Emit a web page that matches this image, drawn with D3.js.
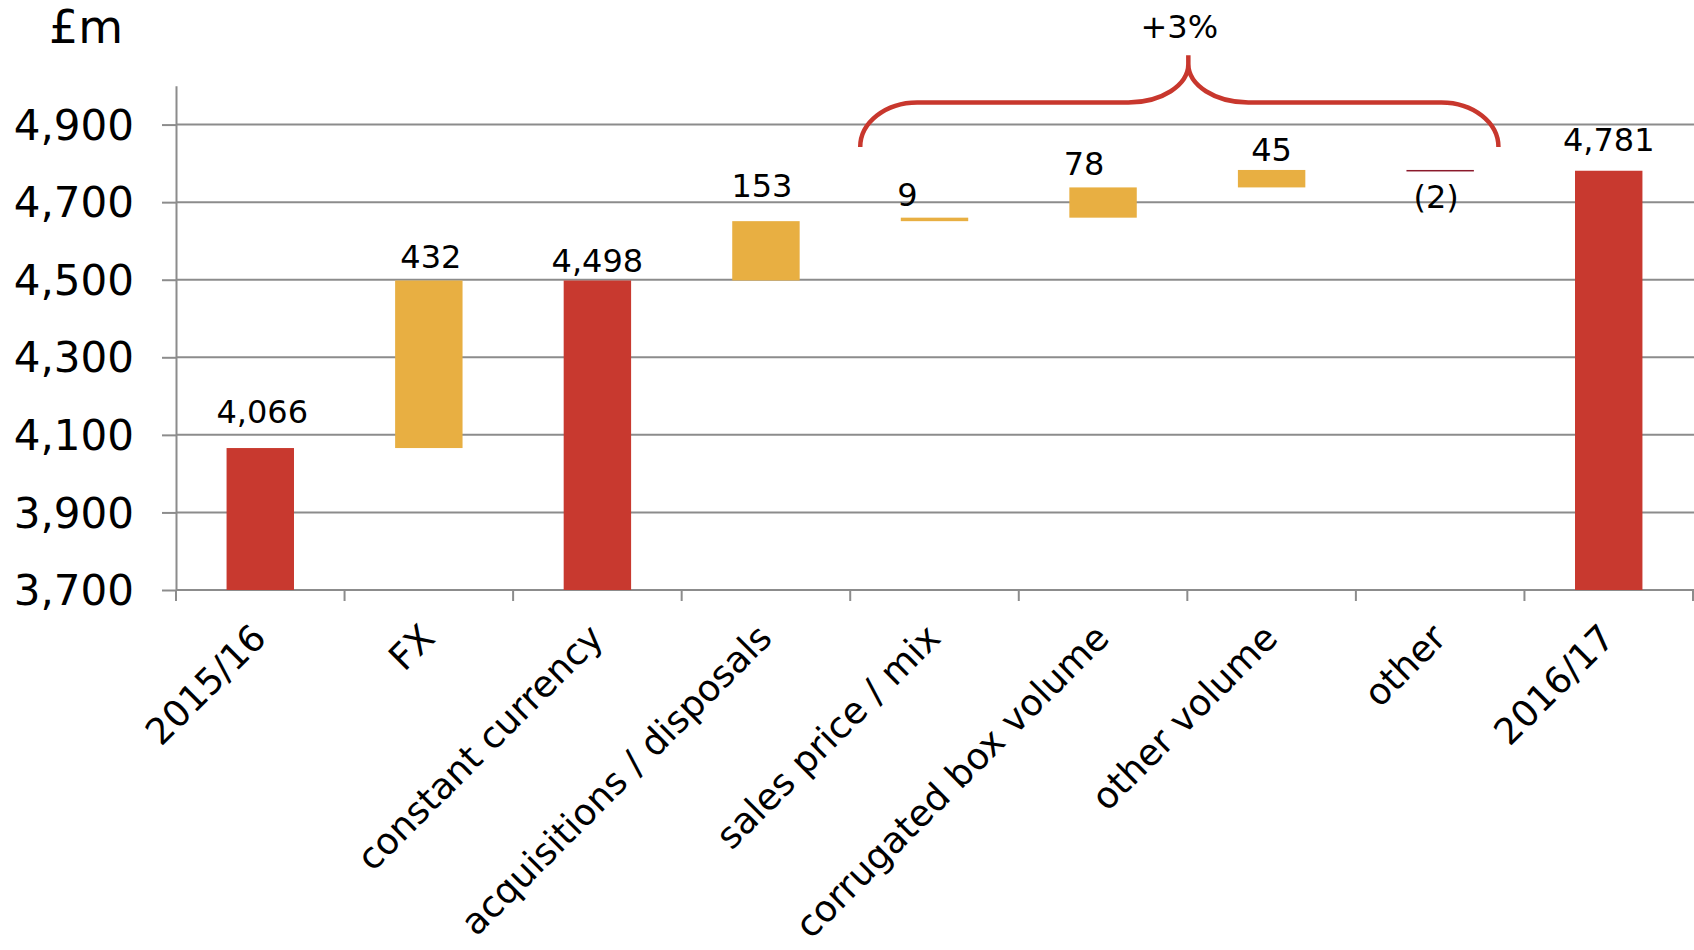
<!DOCTYPE html>
<html><head><meta charset="utf-8">
<script src="https://cdn.jsdelivr.net/npm/d3@7"></script>
<style>
html,body{margin:0;padding:0;background:#fff;}
svg{display:block;font-family:"DejaVu Sans",Verdana,sans-serif;}
</style></head><body>
<svg id="chart" width="1694" height="950"></svg>
<script>
// ---- data ----
const categories = ["2015/16","FX","constant currency","acquisitions / disposals","sales price / mix","corrugated box volume","other volume","other","2016/17"];
const values = [4066, 432, 4498, 153, 9, 78, 45, -2, 4781];
const kinds = ["total","delta","total","delta","delta","delta","delta","delta","total"];
const valueLabels = ["4,066","432","4,498","153","9","78","45","(2)","4,781"];
const yTicks = [3700, 3900, 4100, 4300, 4500, 4700, 4900];
const yTickLabels = ["3,700","3,900","4,100","4,300","4,500","4,700","4,900"];
const yDomain = [3700, 5000];
const unitLabel = "£m";
const braceLabel = "+3%";

// ---- styling ----
const W = 1694, H = 950;
const colTotal = "#C8392F", colPos = "#E8AF42", colNeg = "#8B1A2C", colAxis = "#8C8C8C", colBrace = "#C8372D";
// per-label nudges [dx, gap] as placed in the original
const labelNudge = {
  "2015/16":[2,25], "FX":[2,12], "constant currency":[0,8], "acquisitions / disposals":[-4,24],
  "sales price / mix":[-27,12], "corrugated box volume":[-19,12], "other volume":[0,9],
  "other":[-4,-37], "2016/17":[0,20]
};

const svg = d3.select("#chart");
const x = d3.scaleBand().domain(categories).range([176, 1693]).paddingInner(0.6).paddingOuter(0.3);
const y = d3.scaleLinear().domain(yDomain).range([590, 85.8]);
const step = x.step();
const boundary = i => x.range()[0] + i * step;

// compute waterfall segments
let running = yDomain[0];
const bars = categories.map((c, i) => {
  let a, b;
  if (kinds[i] === "total") { a = yDomain[0]; b = values[i]; running = values[i]; }
  else { a = running; b = running + values[i]; running = b; }
  return {c, lo: Math.min(a,b), hi: Math.max(a,b), v: values[i], kind: kinds[i], label: valueLabels[i]};
});

// gridlines
svg.append("g").selectAll("line").data(yTicks).join("line")
  .attr("x1", 176).attr("x2", W).attr("y1", d => y(d)).attr("y2", d => y(d))
  .attr("stroke", colAxis).attr("stroke-width", 2);

// y axis
const yAxis = svg.append("g").attr("transform", "translate(176,0)")
  .call(d3.axisLeft(y).tickValues(yTicks).tickFormat((d,i) => yTickLabels[i]).tickSize(14).tickSizeOuter(0).tickPadding(28));
yAxis.select(".domain").attr("stroke", colAxis).attr("stroke-width", 2);
yAxis.selectAll(".tick line").attr("stroke", colAxis).attr("stroke-width", 2);
yAxis.selectAll(".tick text").attr("font-size", 42).attr("font-family", "DejaVu Sans").attr("fill", "#000").attr("dy", "0.35em");

// x axis: boundary ticks
svg.append("g").selectAll("line").data(d3.range(categories.length + 1)).join("line")
  .attr("x1", boundary).attr("x2", boundary).attr("y1", y(yDomain[0])).attr("y2", y(yDomain[0]) + 11)
  .attr("stroke", colAxis).attr("stroke-width", 2);

const xAxis = svg.append("g").attr("transform", `translate(0,${y(yDomain[0])})`)
  .call(d3.axisBottom(x).tickSize(0).tickSizeOuter(0));
xAxis.select(".domain").remove();
xAxis.selectAll(".tick text")
  .attr("font-size", 36.5).attr("font-family", "DejaVu Sans").attr("fill", "#000")
  .attr("y", 0).attr("dy", 0).attr("text-anchor", "end")
  .attr("transform", "translate(8,50) rotate(-45)");

// bars
svg.append("g").selectAll("rect").data(bars).join("rect")
  .attr("x", d => x(d.c)).attr("width", x.bandwidth())
  .attr("y", d => y(d.hi))
  .attr("height", d => Math.max(y(d.lo) - y(d.hi), 1.5))
  .attr("fill", d => d.kind === "total" ? colTotal : (d.v >= 0 ? colPos : colNeg));

// value labels
svg.append("g").selectAll("text").data(bars).join("text")
  .attr("x", d => x(d.c) + x.bandwidth()/2 + labelNudge[d.c][0])
  .attr("y", d => d.v >= 0 ? y(d.hi) - labelNudge[d.c][1] : y(d.lo) - labelNudge[d.c][1])
  .attr("text-anchor", "middle").attr("font-size", 32).attr("fill", "#000")
  .text(d => d.label);

// unit label
svg.append("text").attr("x", 49).attr("y", 43).attr("font-size", 46).attr("fill", "#000").text(unitLabel);

// brace over the operating items
const L = boundary(4) + 10, R = boundary(8) - 26, T = boundary(6) + 1;
const yEnd = y(4842), yBar = y(4957), yTipBase = y(5056), yTip = y(5079);
const rx1 = 57, rx2 = 60;
const ry1 = yEnd - yBar, ry2 = yBar - yTipBase;
const path = `M${L},${yEnd} A${rx1},${ry1} 0 0 1 ${L+rx1},${yBar} H${T-rx2} A${rx2},${ry2} 0 0 0 ${T},${yTipBase} V${yTip}`
  + ` M${T},${yTipBase} A${rx2},${ry2} 0 0 0 ${T+rx2},${yBar} H${R-rx1} A${rx1},${ry1} 0 0 1 ${R},${yEnd}`;
svg.append("path").attr("d", path).attr("fill", "none").attr("stroke", colBrace).attr("stroke-width", 4.5).attr("stroke-linecap", "butt");
svg.append("text").attr("x", T - 9).attr("y", y(5123)).attr("text-anchor", "middle").attr("font-size", 32).attr("fill", "#000").text(braceLabel);
</script>
</body></html>
